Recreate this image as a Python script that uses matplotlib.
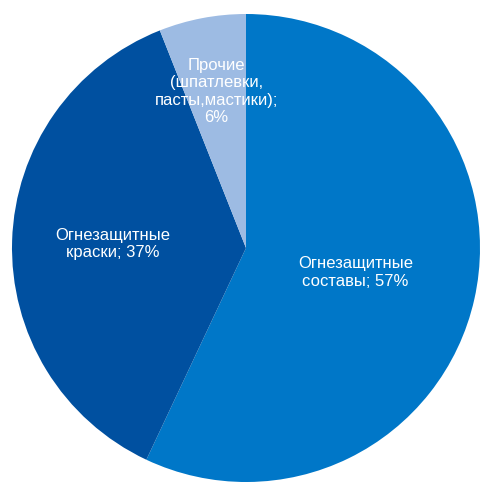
import numpy as np
import matplotlib
matplotlib.use("Agg")
import matplotlib.pyplot as plt

plt.rcParams['font.family'] = ['Liberation Sans', 'DejaVu Sans']

# доли рынка огнезащитных материалов, %
names = ["Огнезащитные\nсоставы", "Огнезащитные\nкраски", "Прочие\n(шпатлевки,\nпасты,мастики)"]
shares = [57, 37, 6]
colors = ["#0077c8", "#0050a0", "#9dbbe3"]
label_dist = [0.48, 0.57, 0.68]
seps = ["; ", "; ", ";\n"]

fig = plt.figure(figsize=(4.81, 4.83), dpi=100)
cx, cy, r = 246, 483 - 248, 234
ax = fig.add_axes([(cx - r) / 481, (cy - r) / 483, 2 * r / 481, 2 * r / 483])

wedges, _ = ax.pie(shares, colors=colors, startangle=90, counterclock=False,
                   wedgeprops=dict(linewidth=0))
ax.set_xlim(-1, 1)
ax.set_ylim(-1, 1)
ax.set_aspect('auto')

for w, name, val, d, sep in zip(wedges, names, shares, label_dist, seps):
    ang = np.deg2rad((w.theta1 + w.theta2) / 2)
    ax.text(d * np.cos(ang), d * np.sin(ang), f"{name}{sep}{val}%",
            ha='center', va='center', color='white', fontsize=12,
            linespacing=1.2)

fig.savefig("out.png", dpi=100)
